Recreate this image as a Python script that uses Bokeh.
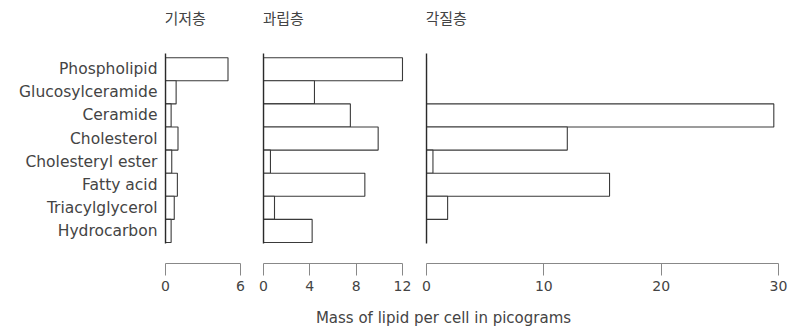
from bokeh.plotting import figure
from bokeh.models import Range1d, FixedTicker, Label
from bokeh.layouts import row, column
from bokeh.embed import file_html
from bokeh.resources import INLINE

# ---- data ----
categories = ["Phospholipid", "Glucosylceramide", "Ceramide", "Cholesterol",
              "Cholesteryl ester", "Fatty acid", "Triacylglycerol", "Hydrocarbon"]
basal = [5.0, 0.85, 0.45, 1.0, 0.5, 0.95, 0.7, 0.45]          # 기저층
granular = [12.0, 4.4, 7.5, 9.9, 0.6, 8.75, 0.95, 4.2]         # 과립층
cornified = [0.0, 0.0, 29.6, 12.0, 0.55, 15.6, 1.8, 0.0]      # 각질층
panel_titles = ["기저층", "과립층", "각질층"]
basal_ticks = [0, 6]
granular_ticks = [0, 4, 8, 12]
cornified_ticks = [0, 10, 20, 30]
x_title = "Mass of lipid per cell in picograms"

ypos = list(range(len(categories)))[::-1]
label_map = {y: c for y, c in zip(ypos, categories)}

# ---- layout constants (pixels / range extents) ----
PX_PER_ROW = 23.1
FRAME_H = 263
Y_BOT = -1.409
Y_TOP = Y_BOT + FRAME_H / PX_PER_ROW
AXIS_TOP = Y_TOP - 53 / PX_PER_ROW
TITLE_Y = Y_TOP - 17 / PX_PER_ROW

TXT = "#444444"
BAR_LINE = "#3a3a3a"


def panel(width, xmax, title, values, ticks, bl, br, show_labels):
    p = figure(width=width, height=300, title=None,
               x_range=Range1d(0, xmax), y_range=Range1d(Y_BOT, Y_TOP),
               output_backend="svg", toolbar_location=None,
               min_border_left=bl, min_border_right=br,
               min_border_top=0, min_border_bottom=37)
    p.hbar(y=ypos, left=0, right=values, height=1.0,
           fill_color="white", line_color=BAR_LINE, line_width=1.1)
    p.grid.visible = False
    p.outline_line_color = None
    p.background_fill_color = "white"
    p.border_fill_color = "white"

    # x axis: a bracket below the bars
    xa = p.xaxis[0]
    xa.ticker = FixedTicker(ticks=ticks)
    xa.bounds = (ticks[0], ticks[-1])
    xa.axis_line_color = "#888888"
    xa.axis_line_width = 1
    xa.major_tick_line_color = "#888888"
    xa.major_tick_out = 12
    xa.major_tick_in = 0
    xa.minor_tick_line_color = None
    xa.major_label_standoff = 5
    xa.major_label_text_font = "DejaVu Sans"
    xa.major_label_text_font_size = "14px"
    xa.major_label_text_color = TXT

    # y axis: the zero line
    ya = p.yaxis[0]
    ya.bounds = (-0.55, AXIS_TOP)
    ya.axis_line_color = "#2a2a2a"
    ya.axis_line_width = 1.4
    ya.major_tick_out = 0
    ya.major_tick_in = 0
    ya.minor_tick_line_color = None
    if show_labels:
        ya.ticker = FixedTicker(ticks=ypos)
        ya.major_label_overrides = label_map
        ya.major_label_standoff = 8
        ya.major_label_text_font = "DejaVu Sans"
        ya.major_label_text_font_size = "15.5px"
        ya.major_label_text_color = TXT
    else:
        ya.ticker = FixedTicker(ticks=[])
        ya.major_label_text_font_size = "0px"

    p.add_layout(Label(x=0, y=TITLE_Y, text=title, text_align="left",
                       text_baseline="middle", x_offset=-1,
                       text_font="Noto Sans CJK KR", text_font_size="15px",
                       text_color="#444444"))
    return p


p1 = panel(255, 7.2, panel_titles[0], basal, basal_ticks, 165, 0, True)
p2 = panel(161, 13.21, panel_titles[1], granular, granular_ticks, 8, 0, False)
p3 = panel(372, 30, panel_titles[2], cornified, cornified_ticks, 10, 10, False)

p4 = figure(width=788, height=29, x_range=Range1d(0, 1), y_range=Range1d(0, 1),
            output_backend="svg", toolbar_location=None, title=None,
            x_axis_location=None, y_axis_location=None,
            min_border_left=98, min_border_right=0,
            min_border_top=0, min_border_bottom=0)
p4.grid.visible = False
p4.outline_line_color = None
p4.add_layout(Label(x=0.5, y=0.5, text=x_title, text_align="center",
                    text_baseline="middle", y_offset=-3,
                    text_font="DejaVu Sans", text_font_size="15px",
                    text_color=TXT))

layout = column(row(p1, p2, p3), p4)

open("out.html", "w").write(file_html(layout, INLINE))
